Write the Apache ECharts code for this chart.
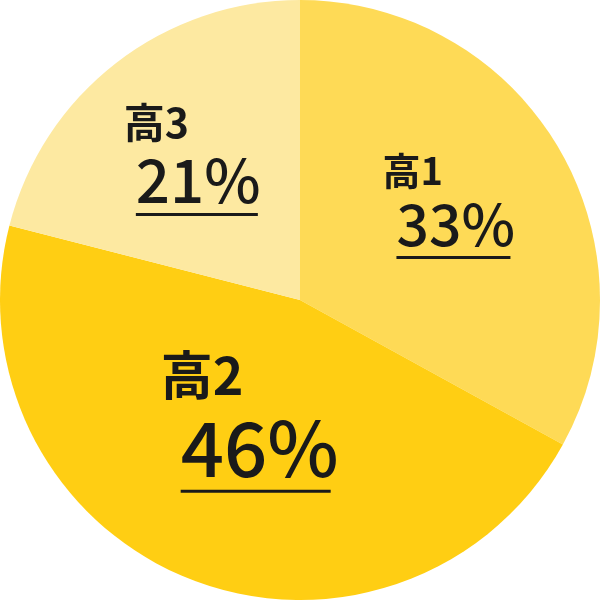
<!DOCTYPE html>
<html>
<head>
<meta charset="utf-8">
<script src="https://cdn.jsdelivr.net/npm/echarts@6/dist/echarts.min.js"></script>
<style>
html,body{margin:0;padding:0;background:#fff;}
#c{width:600px;height:600px;}
</style>
</head>
<body>
<div id="c"></div>
<script>
var categories = ['高1', '高2', '高3'];
var values = [33, 46, 21];
var colors = ['#FEDA56', '#FFCE13', '#FDE9A1'];
// label style per slice: name size, percent size, indent, underline width
var labelStyles = [
  {n: 38, p: 57, indent: 14, uw: 114},
  {n: 52, p: 76, indent: 20, uw: 150},
  {n: 41, p: 60, indent: 12, uw: 122}
];
var labelShift = [[17, -19], [6, -24], [-14, -22]];

var FONT = '"Noto Sans CJK JP", "Noto Sans", sans-serif';
var data = categories.map(function (c, i) {
  var s = labelStyles[i];
  return {
    name: c,
    value: values[i],
    itemStyle: {color: colors[i]},
    label: {
      formatter: '{n|{b}}\n{p|{c}%}\n{s| }{u| }',
      rich: {
        n: {fontSize: s.n, fontWeight: 'bold', lineHeight: Math.round(s.n * 1.2), color: '#1a1a1a', align: 'left', fontFamily: FONT},
        p: {fontSize: s.p, fontWeight: 500, lineHeight: Math.round(s.p * 1.1), color: '#1a1a1a', align: 'left', padding: [0, 0, 0, s.indent], fontFamily: FONT},
        s: {fontSize: 1, lineHeight: 3, height: 3, width: s.indent, align: 'left'},
        u: {fontSize: 1, lineHeight: 3, height: 3, width: s.uw, backgroundColor: '#1a1a1a', align: 'left'}
      }
    }
  };
});

var chart = echarts.init(document.getElementById('c'));
chart.setOption({
  animation: false,
  series: [{
    type: 'pie',
    center: ['50%', '50%'],
    radius: [0, '100%'],
    startAngle: 90,
    clockwise: true,
    label: {show: true, position: 'inside', fontFamily: FONT},
    labelLine: {show: false},
    emphasis: {disabled: true},
    labelLayout: function (params) {
      var d = labelShift[params.dataIndex];
      return {dx: d[0], dy: d[1]};
    },
    data: data
  }]
});
</script>
</body>
</html>
